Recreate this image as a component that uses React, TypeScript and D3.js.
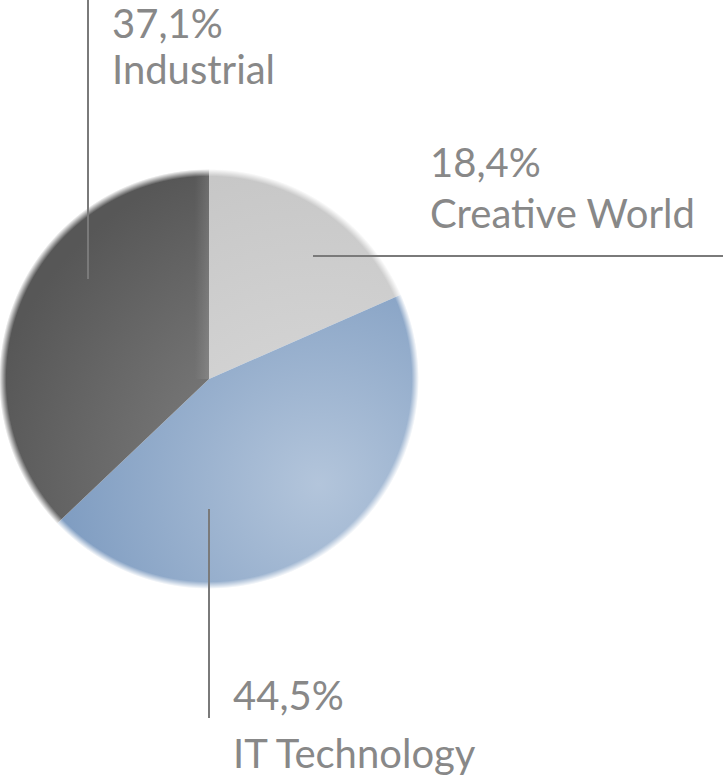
import React from "react";
import * as d3 from "d3";

const categories = ["Creative World", "IT Technology", "Industrial"];
const values = [18.4, 44.5, 37.1];
const valueLabels = ["18,4%", "44,5%", "37,1%"];

// gradient stops per slice: [inner (highlight), outer]
const sliceColors: [string, string][] = [
  ["#dadada", "#c6c6c6"],
  ["#b3c5db", "#6f90b9"],
  ["#8a8a8a", "#575757"],
];

// label layout (leader line + text positions)
const labelLayout = [
  { line: [[313, 256], [723, 256]], tx: 430, ty1: 177, ty2: 228 },
  { line: [[209, 509], [209, 718]], tx: 233, ty1: 710, ty2: 768 },
  { line: [[88, 279], [88, 0]], tx: 112, ty1: 38, ty2: 84 },
];

const W = 723;
const H = 782;
const cx = 209;
const cy = 379;
const R = 210;

export default function App() {
  const pie = d3.pie<number>().sort(null).value((d) => d)(values);
  const arc = d3.arc<d3.PieArcDatum<number>>().innerRadius(0).outerRadius(R);
  return (
    <svg
      width={W}
      height={H}
      style={{ position: "absolute", left: 0, top: 0 }}
      fontFamily="Lato, sans-serif"
    >
      <defs>
        {sliceColors.map((c, i) => (
          <radialGradient
            key={i}
            id={`g${i}`}
            gradientUnits="userSpaceOnUse"
            cx={110}
            cy={105}
            r={340}
          >
            <stop offset="0" stopColor={c[0]} />
            <stop offset="1" stopColor={c[1]} />
          </radialGradient>
        ))}
        <radialGradient id="rim" gradientUnits="userSpaceOnUse" cx={cx} cy={cy} r={R}>
          <stop offset="0.965" stopColor="#fff" />
          <stop offset="1" stopColor="#000" />
        </radialGradient>
        <mask id="rimMask" maskUnits="userSpaceOnUse" x={0} y={0} width={W} height={H}>
          <circle cx={cx} cy={cy} r={R} fill="url(#rim)" />
        </mask>
        <linearGradient id="edge" gradientUnits="userSpaceOnUse" x1={cx - 14} y1={0} x2={cx} y2={0}>
          <stop offset="0" stopColor="#fff" stopOpacity={0} />
          <stop offset="1" stopColor="#fff" stopOpacity={0.12} />
        </linearGradient>
        <clipPath id="clip2">
          <path d={arc(pie[2]) || ""} transform={`translate(${cx},${cy})`} />
        </clipPath>
      </defs>
      <g mask="url(#rimMask)">
        {pie.map((p, i) => (
          <path
            key={categories[i]}
            d={arc(p) || ""}
            transform={`translate(${cx},${cy})`}
            fill={`url(#g${i})`}
          />
        ))}
        <rect
          x={cx - 14}
          y={cy - R}
          width={14}
          height={R}
          fill="url(#edge)"
          clipPath="url(#clip2)"
        />
      </g>
      {labelLayout.map((l, i) => (
        <g key={i}>
          <line
            x1={l.line[0][0]}
            y1={l.line[0][1]}
            x2={l.line[1][0]}
            y2={l.line[1][1]}
            stroke="#7a7a7a"
            strokeWidth={2}
          />
          <text x={l.tx} y={l.ty1} fontSize={40} fill="#888">
            {valueLabels[i]}
          </text>
          <text x={l.tx} y={l.ty2} fontSize={40} fill="#888">
            {categories[i]}
          </text>
        </g>
      ))}
    </svg>
  );
}
